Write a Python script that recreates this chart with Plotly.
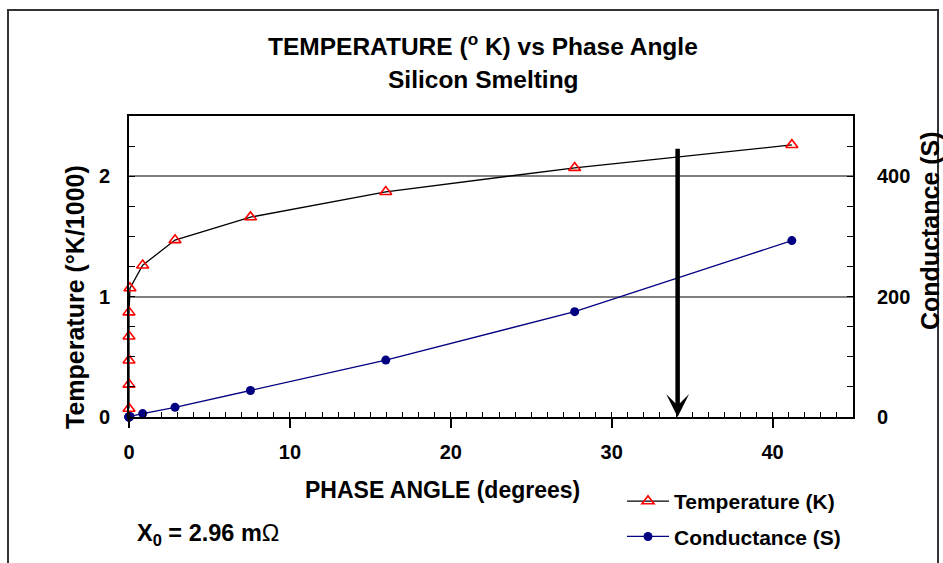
import plotly.graph_objects as go

# ---- data ----
phase_angle = [0, 0, 0, 0, 0, 0.06, 0.85, 2.86, 7.55, 15.96, 27.7, 41.2]
temperature_k1000 = [0.07, 0.27, 0.47, 0.67, 0.87, 1.07, 1.26, 1.47, 1.66, 1.87, 2.07, 2.26]
conductance_s = [0, 0, 0, 0, 0.5, 1, 5.7, 16, 44, 94.5, 175, 293]
arrow_phase = 34.1
arrow_top = 2.24
x_ticks = [0, 10, 20, 30, 40]
y_ticks = [0, 1, 2]
y2_ticks = [0, 200, 400]

W, H = 943, 563
L, R, T, B = 129, 90, 116, 146
PW, PH = W - L - R, H - T - B


def px(x):
    return (x - L) / PW


def py(y):
    return (H - B - y) / PH


FONT = "Liberation Sans, Arial, sans-serif"

fig = go.Figure()
fig.add_trace(go.Scatter(
    x=phase_angle, y=temperature_k1000, name="Temperature (K)",
    mode="lines+markers", legendgroup="t",
    line=dict(color="black", width=1.3),
    marker=dict(symbol="triangle-up-open", size=10.5, color="red", line=dict(color="red", width=1.6)),
    cliponaxis=False,
))
fig.add_trace(go.Scatter(
    x=phase_angle, y=conductance_s, name="Conductance (S)", yaxis="y2",
    mode="lines+markers", legendgroup="c",
    line=dict(color="#000080", width=1.3),
    marker=dict(symbol="circle", size=9, color="#000080"),
    cliponaxis=False,
))

fig.update_layout(
    width=W, height=H,
    margin=dict(l=L, r=R, t=T, b=B, autoexpand=False),
    paper_bgcolor="white", plot_bgcolor="white",
    font=dict(family=FONT, color="black", size=20),
    showlegend=True,
    legend=dict(x=px(622), y=py(481), xanchor="left", yanchor="top",
                font=dict(size=21, family=FONT, weight="bold"),
                itemwidth=42,
                tracegroupgap=5, bgcolor="rgba(0,0,0,0)"),
    xaxis=dict(
        range=[0, 45], tickvals=x_ticks, showgrid=False, zeroline=False,
        showline=True, linecolor="black", linewidth=2, mirror=True,
        ticks="outside", ticklen=9, tickwidth=1.5, tickcolor="black",
        ticklabelstandoff=7,
        tickfont=dict(size=20, family=FONT, weight="bold"),
        minor=dict(dtick=1, tick0=0, ticks="inside", ticklen=5, tickwidth=1.2, tickcolor="black", showgrid=False),
    ),
    yaxis=dict(
        range=[0, 2.5], tickvals=y_ticks, showgrid=True, gridcolor="#7f7f7f", gridwidth=1.5,
        zeroline=False, showline=True, linecolor="black", linewidth=2,
        ticks="inside", ticklen=6, tickwidth=1.2, tickcolor="black",
        ticklabelstandoff=13,
        tickfont=dict(size=20, family=FONT, weight="bold"),
        minor=dict(dtick=0.25, tick0=0, ticks="inside", ticklen=6, tickwidth=1.2, tickcolor="black", showgrid=False),
    ),
    yaxis2=dict(
        range=[0, 500], tickvals=y2_ticks, overlaying="y", side="right", showgrid=False,
        zeroline=False, showline=True, linecolor="black", linewidth=2,
        ticks="inside", ticklen=6, tickwidth=1.2, tickcolor="black",
        ticklabelstandoff=18,
        tickfont=dict(size=20, family=FONT, weight="bold"),
        minor=dict(dtick=50, tick0=0, ticks="inside", ticklen=6, tickwidth=1.2, tickcolor="black", showgrid=False),
    ),
)

ann = []
ann.append(dict(text="<b>TEMPERATURE (<sup>o</sup> K) vs Phase Angle</b>", x=px(483), y=py(44),
                xref="paper", yref="paper", showarrow=False, xanchor="center", yanchor="middle",
                font=dict(size=24.5, family=FONT)))
ann.append(dict(text="<b>Silicon Smelting</b>", x=px(483), y=py(79),
                xref="paper", yref="paper", showarrow=False, xanchor="center", yanchor="middle",
                font=dict(size=24.5, family=FONT)))
ann.append(dict(text="<b>PHASE ANGLE (degrees)</b>", x=px(442), y=py(490),
                xref="paper", yref="paper", showarrow=False, xanchor="center", yanchor="middle",
                font=dict(size=23, family=FONT)))
ann.append(dict(text="<b>Temperature (°K/1000)</b>", x=px(75), y=py(297), textangle=-90,
                xref="paper", yref="paper", showarrow=False, xanchor="center", yanchor="middle",
                font=dict(size=25, family=FONT)))
ann.append(dict(text="<b>Conductance (S)</b>", x=px(930), y=py(231), textangle=-90,
                xref="paper", yref="paper", showarrow=False, xanchor="center", yanchor="middle",
                font=dict(size=25, family=FONT)))
ann.append(dict(text="<b>X<sub>0</sub> = 2.96 m</b>Ω", x=px(135), y=py(534),
                xref="paper", yref="paper", showarrow=False, xanchor="left", yanchor="middle",
                font=dict(size=23.5, family=FONT)))
ann.append(dict(x=arrow_phase, y=0, ax=arrow_phase, ay=arrow_top, xref="x", yref="y",
                axref="x", ayref="y", showarrow=True, text="",
                arrowhead=3, arrowsize=0.85, arrowwidth=4.5, arrowcolor="black", standoff=0))
fig.update_layout(annotations=ann)

fig.add_shape(type="rect", xref="paper", yref="paper",
              x0=px(8), x1=px(938), y0=py(10), y1=py(620),
              line=dict(color="#333333", width=2), fillcolor="rgba(0,0,0,0)", layer="below")

fig.write_html("out.html", config={"displayModeBar": False},
               post_script="document.body.style.margin='0px';document.body.style.padding='0px';")
